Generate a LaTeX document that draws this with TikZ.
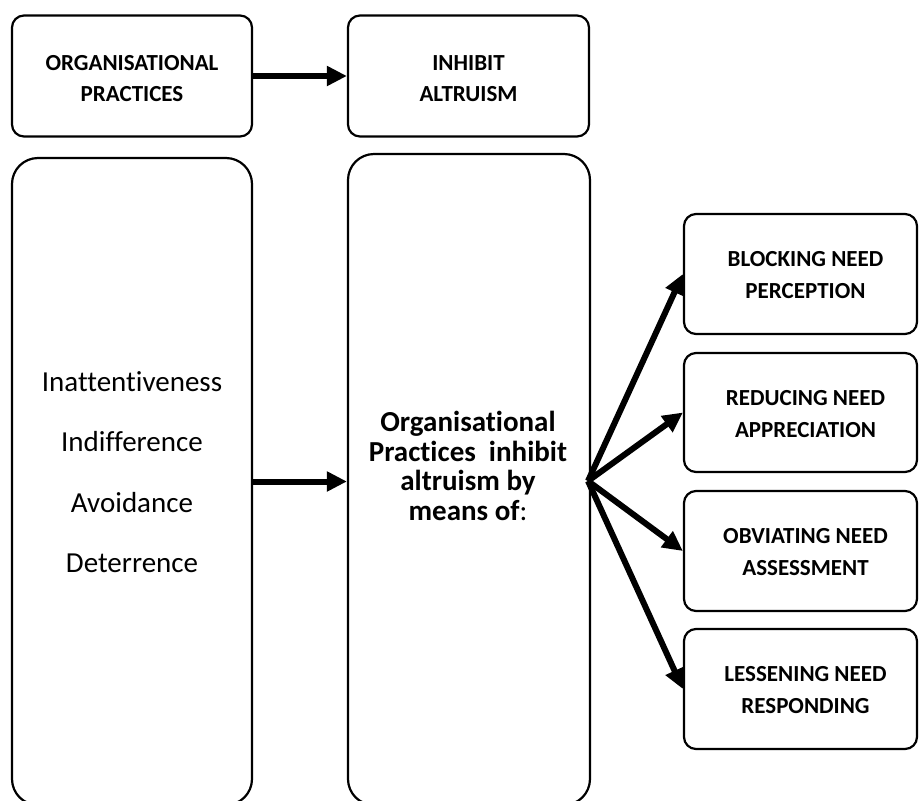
\documentclass[tikz,border=0pt]{standalone}
\usepackage{fontspec}
\setmainfont{Carlito}[Ligatures=NoCommon]
\usetikzlibrary{arrows.meta}
\begin{document}
\begin{tikzpicture}[x=1pt,y=-1pt,
  box/.style={draw, line width=2.2pt, rounded corners=12pt, inner sep=0pt},
  tallbox/.style={draw, line width=2.2pt, rounded corners=26pt, inner sep=0pt},
  headbox/.style={box, minimum width=240pt, minimum height=121pt,
    label={[font=\fontsize{23}{31}\selectfont\bfseries, align=center, yshift=-2.5pt]center:#1}},
  outcome/.style={box, minimum width=233pt, minimum height=120pt,
    label={[font=\fontsize{23}{32}\selectfont\bfseries, align=center, xshift=5pt, yshift=-1.5pt]center:#1}},
  flow/.style={line width=6pt, -{Triangle[length=20pt,width=19pt]}}]
\useasboundingbox (0,0) rectangle (919,801);
\clip (0,0) rectangle (919,801);

% top row
\node[headbox={ORGANISATIONAL\\PRACTICES}] (orgp) at (132,76) {};
\node[headbox={INHIBIT\\ALTRUISM}, minimum width=241pt] (inhib) at (468.5,76) {};

% tall columns
\node[tallbox, minimum width=240pt, minimum height=647pt] (causes) at (132,481.5) {};
\node[align=center, font=\fontsize{29}{60.5}\selectfont] (causelist) at (132,472)
  {Inattentiveness\\Indifference\\Avoidance\\Deterrence};
\node[tallbox, minimum width=242pt, minimum height=651pt] (means) at (469,479.5) {};
\node[align=center, font=\fontsize{29}{29.5}\selectfont\bfseries] (meanstext) at (468,466)
  {Organisational\\Practices\ \ inhibit\\altruism by\\means of{\mdseries:}};

% outcomes
\node[outcome={BLOCKING NEED\\PERCEPTION}] (block) at (800.5,274) {};
\node[outcome={REDUCING NEED\\APPRECIATION}, minimum height=119pt] (reduce) at (800.5,412.5) {};
\node[outcome={OBVIATING NEED\\ASSESSMENT}] (obviate) at (800.5,551) {};
\node[outcome={LESSENING NEED\\RESPONDING}] (lessen) at (800.5,689) {};

% connectors
\draw[flow] (orgp.east) -- (inhib.west);
\draw[flow] (causes.east) -- (causes.east -| means.west);
\coordinate (hub) at (588,481);
\draw[flow] (hub) -- (block.west);
\draw[flow] (hub) -- (reduce.west);
\draw[flow] (hub) -- (obviate.west);
\draw[flow] (hub) -- (lessen.west);
\end{tikzpicture}
\end{document}
